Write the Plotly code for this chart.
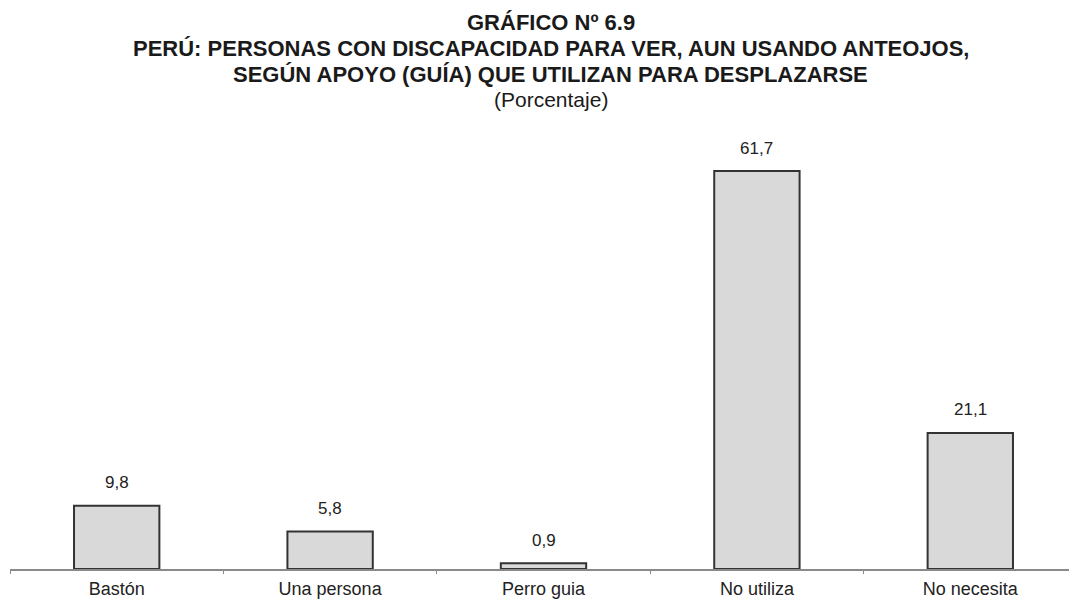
import plotly.graph_objects as go

categories = ["Bastón", "Una persona", "Perro guia", "No utiliza", "No necesita"]
values = [9.8, 5.8, 0.9, 61.7, 21.1]
value_labels = [f"{v:.1f}".replace(".", ",") for v in values]

title_lines = [
    "GRÁFICO Nº 6.9",
    "PERÚ: PERSONAS CON DISCAPACIDAD PARA VER, AUN USANDO ANTEOJOS,",
    "SEGÚN APOYO (GUÍA) QUE UTILIZAN PARA DESPLAZARSE",
]
subtitle = "(Porcentaje)"

# page offset of the plot div (browser body margin)
OFF = 8
plot_top = 130          # div coordinates
axis_y = 561            # div coordinates of baseline
px_per_unit = 6.45
title_x = 0.507

fig = go.Figure()
fig.add_trace(go.Bar(
    x=categories, y=values, width=0.4,
    marker=dict(color="#d9d9d9", line=dict(color="#333333", width=2)),
    hoverinfo="skip",
))

for c, v, t in zip(categories, values, value_labels):
    fig.add_annotation(x=c, y=v, text=t, showarrow=False, yshift=23,
                       font=dict(family="Liberation Sans, Arial", size=17, color="#222222"))

font_t = dict(family="Liberation Sans, Arial", size=22, color="#1a1a1a")
title_y = [22, 48, 74]   # page y centres
for line, y in zip(title_lines, title_y):
    fig.add_annotation(xref="paper", yref="paper", x=title_x, y=1, yshift=plot_top - (y - OFF),
                       text=f"<b>{line}</b>", showarrow=False, font=font_t,
                       xanchor="center", yanchor="middle")
fig.add_annotation(xref="paper", yref="paper", x=title_x, y=1, yshift=plot_top - (99 - OFF),
                   text=subtitle, showarrow=False,
                   font=dict(family="Liberation Sans, Arial", size=21, color="#1a1a1a"),
                   xanchor="center", yanchor="middle")

fig.update_layout(
    width=1077, height=604,
    margin=dict(l=2, r=8, t=plot_top, b=604 - axis_y),
    paper_bgcolor="white", plot_bgcolor="white",
    showlegend=False,
    xaxis=dict(showline=True, linecolor="#8a8a8a", linewidth=1.5,
               ticks="outside", ticklen=3, tickcolor="#8a8a8a", tickson="boundaries",
               ticklabelstandoff=3,
               tickfont=dict(family="Liberation Sans, Arial", size=18, color="#222222"),
               showgrid=False, zeroline=False),
    yaxis=dict(range=[0, (axis_y - plot_top) / px_per_unit], visible=False,
               showgrid=False, zeroline=False),
)

fig.write_html("out.html")
